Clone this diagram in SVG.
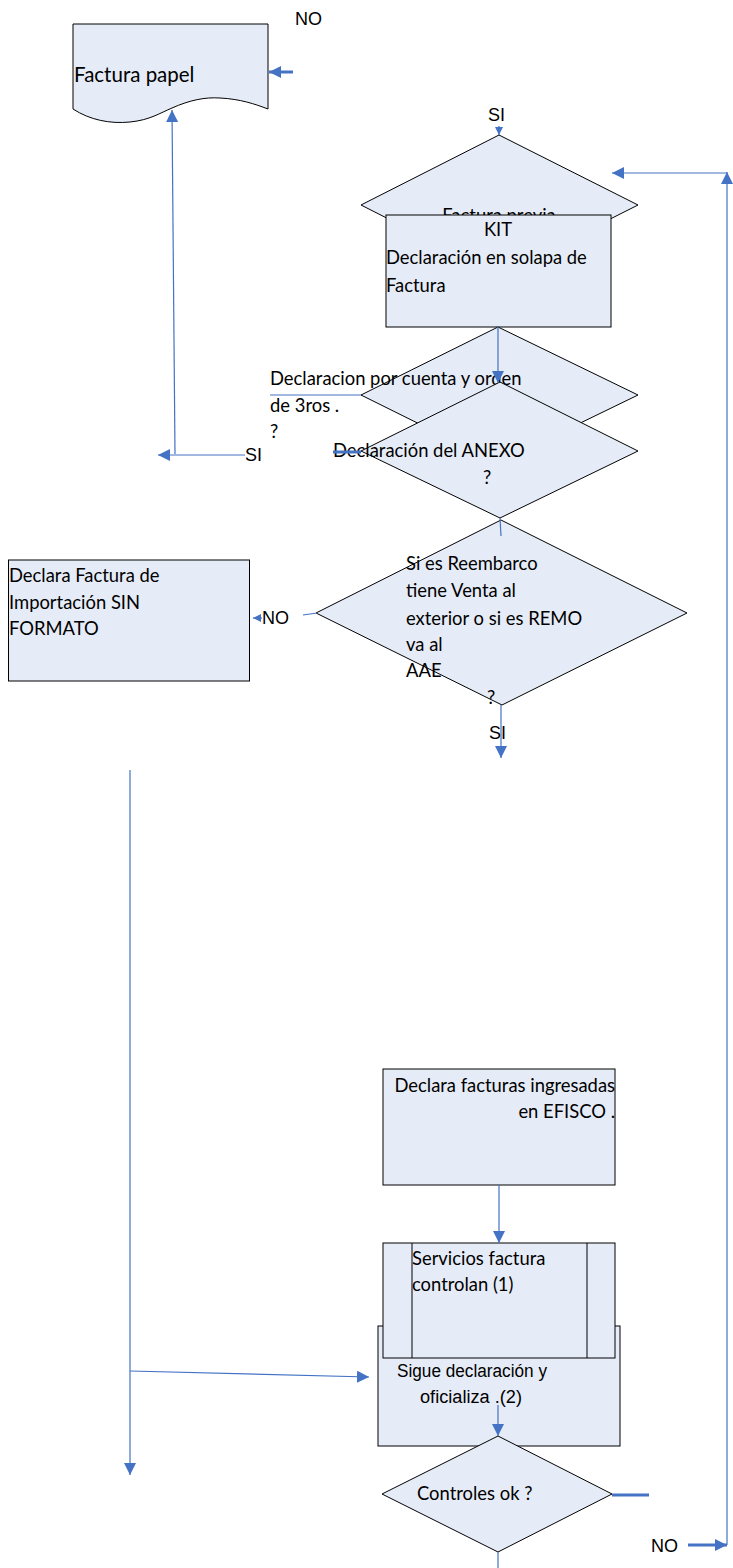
<svg xmlns="http://www.w3.org/2000/svg" width="733" height="1568" viewBox="0 0 733 1568">
<style>
.s{fill:#E6ECF7;stroke:#000;stroke-width:1}
.c{stroke:#4472C4;fill:none;stroke-width:1.2}
.ct{stroke:#4472C4;fill:none;stroke-width:3}
.t{font-family:Lato,"Open Sans",sans-serif;font-size:18.4px;fill:#000}
.a{font-family:"Liberation Sans",Arial,sans-serif;font-size:18px;fill:#000}
</style>
<defs>
<marker id="ah" viewBox="0 0 10 10" refX="10" refY="5" markerWidth="12" markerHeight="12" markerUnits="userSpaceOnUse" orient="auto">
<path d="M0,0 L10,5 L0,10 z" fill="#4472C4"/>
</marker>
<marker id="as" viewBox="0 0 10 10" refX="10" refY="5" markerWidth="8" markerHeight="9" markerUnits="userSpaceOnUse" orient="auto">
<path d="M0,0 L10,5 L0,10 z" fill="#4472C4"/>
</marker>
<clipPath id="clipPrevia"><rect x="361" y="135" width="277" height="80"/></clipPath>
</defs>
<rect width="733" height="1568" fill="#fff"/>

<g id="factura-papel">
<path class="s" d="M73,24 H268 V109 C255,104 240,99 220,98 C205,97 190,100 172,108 C160,113 150,120 130,122 C110,124 90,120 73,109 Z"/>
<text class="t" x="74" y="82" style="font-size:20.5px">Factura papel</text>
</g>

<g id="labels">
<text class="a" x="295" y="25">NO</text>
<text class="a" x="488" y="121">SI</text>
<text class="a" x="245" y="461">SI</text>
<text class="a" x="262" y="624">NO</text>
<text class="a" x="489" y="739">SI</text>
<text class="a" x="651" y="1552">NO</text>
</g>

<g id="factura-previa">
<polygon class="s" points="499,135 638,205 499,275 361,205"/>
<text class="t" x="499" y="222" text-anchor="middle" clip-path="url(#clipPrevia)">Factura previa</text>
</g>

<g id="kit">
<rect class="s" x="386" y="215" width="225" height="112"/>
<text class="t" x="498" y="236" text-anchor="middle">KIT</text>
<text class="t" x="386" y="264">Declaración en solapa de</text>
<text class="t" x="386" y="292">Factura</text>
</g>

<g id="terceros">
<polygon class="s" points="498,327 638,395 498,463 361,395"/>
<text class="t" x="270" y="385">Declaracion por cuenta y orden</text>
<text class="t" x="270" y="412">de 3ros .</text>
<text class="t" x="270" y="438">?</text>
</g>

<g id="anexo">
<polygon class="s" points="500,382 638,451 500,518 361,451"/>
<text class="t" x="333" y="457">Declaración del ANEXO</text>
<text class="t" x="483" y="484">?</text>
</g>

<g id="reembarco">
<polygon class="s" points="501,520 687,613 502,705 316,613"/>
<text class="t" x="406" y="570">Si es Reembarco</text>
<text class="t" x="406" y="597">tiene Venta al</text>
<text class="t" x="406" y="625">exterior o si es REMO</text>
<text class="t" x="406" y="651">va al</text>
<text class="t" x="406" y="677">AAE</text>
<text class="t" x="487" y="704">?</text>
</g>

<g id="sin-formato">
<rect class="s" x="8.5" y="560" width="241" height="121"/>
<text class="t" x="9" y="582">Declara Factura de</text>
<text class="t" x="9" y="609">Importación SIN</text>
<text class="t" x="9" y="635">FORMATO</text>
</g>

<g id="efisco">
<rect class="s" x="383" y="1069" width="232" height="116"/>
<text class="t" x="615" y="1092" text-anchor="end">Declara facturas ingresadas</text>
<text class="t" x="615" y="1118" text-anchor="end">en EFISCO .</text>
</g>

<g id="sigue">
<rect class="s" x="378" y="1326" width="242" height="120"/>
<text class="a" x="397" y="1377" font-size="19" textLength="150" lengthAdjust="spacingAndGlyphs">Sigue declaración y</text>
<text class="a" x="420" y="1403" font-size="19" textLength="102" lengthAdjust="spacingAndGlyphs">oficializa .(2)</text>
</g>

<g id="servicios">
<rect class="s" x="383" y="1243" width="232" height="115"/>
<line x1="412" y1="1243" x2="412" y2="1358" stroke="#000"/>
<line x1="587" y1="1243" x2="587" y2="1358" stroke="#000"/>
<text class="t" x="412" y="1265">Servicios factura</text>
<text class="t" x="412" y="1291">controlan (1)</text>
</g>

<g id="controles">
<polygon class="s" points="498,1436 612,1494 498,1552 382,1494"/>
<text class="t" x="417" y="1500">Controles ok ?</text>
</g>

<g id="connectors">
<line class="ct" x1="293" y1="72" x2="269" y2="72" marker-end="url(#ah)"/>
<line class="c" x1="175" y1="454" x2="172" y2="110" marker-end="url(#ah)"/>
<line class="c" x1="245" y1="455" x2="158" y2="455" marker-end="url(#ah)"/>
<line class="c" x1="499" y1="126" x2="499" y2="135" marker-end="url(#as)"/>
<line class="c" x1="727" y1="1545" x2="727" y2="172" marker-end="url(#ah)"/>
<line class="c" x1="727" y1="173" x2="612" y2="173" marker-end="url(#ah)"/>
<line class="c" x1="498" y1="327" x2="498" y2="383" marker-end="url(#ah)"/>
<line class="c" x1="270" y1="395" x2="361" y2="395"/>
<line class="ct" x1="333" y1="452" x2="361" y2="452"/>
<line class="c" x1="500" y1="518" x2="501" y2="536"/>
<line class="c" x1="317" y1="613" x2="303" y2="615"/>
<line class="c" x1="262" y1="618" x2="253" y2="618" marker-end="url(#as)"/>
<line class="c" x1="501" y1="705" x2="501" y2="758" marker-end="url(#ah)"/>
<line class="c" x1="130" y1="770" x2="130" y2="1475" marker-end="url(#ah)"/>
<line class="c" x1="130" y1="1371" x2="369" y2="1377" marker-end="url(#ah)"/>
<line class="c" x1="499" y1="1185" x2="499" y2="1243" marker-end="url(#ah)"/>
<line class="c" x1="498" y1="1405" x2="498" y2="1436" marker-end="url(#ah)"/>
<line class="ct" x1="612" y1="1495" x2="649" y2="1495"/>
<line class="c" x1="498" y1="1552" x2="498" y2="1568"/>
<line class="ct" x1="688" y1="1545" x2="727" y2="1545" marker-end="url(#ah)"/>
</g>
</svg>
